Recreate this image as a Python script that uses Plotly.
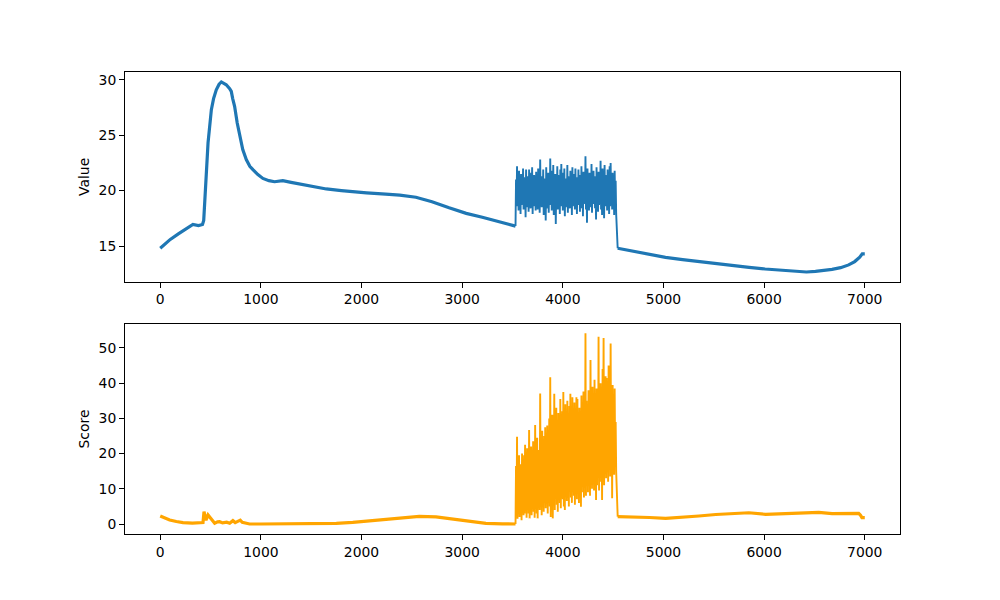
import plotly.graph_objects as go

# ---------------- Data ----------------
# Value series: smooth part before the noisy block
value_pre_x = [0, 50, 100, 180, 260, 325, 380, 420, 432, 450, 475, 508, 530, 557, 585, 607,
               630, 656, 690, 706, 720, 739, 765, 789, 820, 855, 890, 921, 970, 1020, 1080,
               1136, 1218, 1300, 1420, 1550, 1650, 1800, 1910, 2050, 2240, 2380, 2540, 2700,
               2870, 3040, 3200, 3370, 3530]
value_pre_y = [14.8, 15.2, 15.6, 16.1, 16.6, 16.95, 16.85, 16.95, 17.3, 19.8, 24.3, 27.3, 28.3,
               29.1, 29.6, 29.8, 29.7, 29.55, 29.2, 28.95, 28.3, 27.6, 26.1, 24.9, 23.7, 22.8,
               22.2, 21.9, 21.45, 21.1, 20.9, 20.8, 20.9, 20.75, 20.55, 20.3, 20.15, 20.0, 19.9,
               19.8, 19.68, 19.6, 19.4, 19.0, 18.45, 17.95, 17.6, 17.2, 16.8]

# noisy block: alternating high / low readings, one pair every 10 samples from index 3535
noise_start = 3535
noise_step = 5
value_noise_high = [21.0, 22.2, 20.7, 21.8, 20.9, 21.5, 20.6, 22.0, 21.2, 20.8,
                    21.9, 20.7, 21.3, 21.9, 20.8, 21.6, 22.1, 20.9, 21.4, 20.6,
                    21.7, 21.0, 22.0, 20.8, 22.8, 21.3, 20.7, 21.9, 21.1, 20.9,
                    22.1, 20.8, 21.6, 21.0, 22.9, 21.8, 20.7, 22.3, 21.2, 21.5,
                    20.8, 22.2, 21.4, 20.9, 21.9, 22.4, 20.7, 21.6, 22.0, 21.1,
                    20.9, 22.3, 21.3, 20.8, 21.8, 21.0, 22.1, 20.7, 21.5, 22.0,
                    21.2, 20.8, 21.9, 21.4, 20.7, 22.2, 21.0, 21.7, 20.9, 23.1,
                    21.4, 22.0, 20.8, 21.6, 21.1, 22.4, 20.7, 21.8, 21.3, 20.9,
                    22.1, 21.0, 21.7, 20.8, 22.7, 21.2, 22.0, 20.9, 22.3, 21.4,
                    20.8, 21.9, 21.2, 22.2, 22.5, 20.9, 21.6, 21.0, 21.8, 20.9]
value_noise_low = [18.6, 19.1, 18.2, 18.9, 17.9, 18.7, 19.2, 18.3, 18.8, 17.6,
                   18.5, 19.0, 18.1, 18.8, 18.4, 19.1, 17.9, 18.6, 19.0, 18.2,
                   18.9, 18.3, 19.2, 18.0, 18.7, 18.5, 19.0, 17.8, 18.8, 17.3,
                   18.4, 19.1, 18.0, 18.7, 19.2, 18.2, 18.9, 17.8, 18.5, 17.0,
                   19.0, 18.3, 18.8, 17.9, 18.6, 19.1, 18.2, 18.9, 17.7, 18.5,
                   19.2, 18.0, 18.7, 18.4, 19.0, 17.8, 18.6, 19.1, 18.3, 18.8,
                   17.9, 18.7, 19.2, 18.1, 18.9, 18.4, 17.7, 18.8, 19.0, 18.3,
                   17.1, 18.9, 18.2, 19.1, 18.5, 18.0, 18.8, 19.2, 18.4, 17.4,
                   18.9, 18.1, 18.7, 19.0, 18.3, 17.8, 18.9, 17.5, 18.6, 19.1,
                   18.2, 18.8, 17.9, 18.6, 19.0, 18.3, 18.7, 17.8, 18.9, 17.9]

value_post_x = [4545, 4690, 4860, 5020, 5190, 5350, 5520, 5680, 5850, 6010, 6180, 6340, 6420,
                6510, 6600, 6675, 6760, 6840, 6900, 6950, 6975, 7000]
value_post_y = [14.8, 14.55, 14.2, 13.98, 13.78, 13.59, 13.4, 13.23, 13.07, 12.93, 12.8, 12.68,
                12.66, 12.72, 12.8, 12.9, 13.05, 13.3, 13.6, 14.0, 14.3, 14.3]

# Score series
score_pre_x = [0, 40, 94, 160, 226, 320, 408, 425, 435, 445, 455, 475, 490, 508, 525, 541, 570,
               590, 620, 660, 690, 710, 722, 745, 772, 785, 795, 815, 838, 888, 1000, 1300, 1580,
               1750, 1913, 2080, 2244, 2410, 2574, 2740, 2905, 3070, 3236, 3400, 3530]
score_pre_y = [2.27, 1.8, 1.14, 0.7, 0.37, 0.25, 0.2, 0.4, 3.5, 2.0, 1.1, 2.55, 2.0, 1.6, 1.0,
               0.2, 0.6, 0.66, 0.3, 0.5, 0.2, 0.8, 0.95, 0.4, 0.66, 0.9, 1.1, 0.5, 0.37, 0.0,
               0.0, 0.0, 0.05, 0.2, 0.48, 0.9, 1.42, 1.85, 2.18, 2.0, 1.42, 0.8, 0.2, 0.05, 0.0]

score_noise_high = [16.5, 24.8, 14.0, 19.5, 17.0, 12.5, 20.0, 16.0, 19.5, 22.5,
                    15.0, 21.5, 18.0, 26.7, 17.5, 22.0, 14.5, 23.5, 19.0, 28.1,
                    18.0, 24.5, 21.0, 16.5, 37.1, 22.0, 26.5, 19.5, 25.0, 27.5,
                    20.5, 28.0, 23.0, 30.0, 41.7, 21.5, 31.0, 24.0, 37.0, 27.0,
                    33.0, 23.5, 31.5, 26.0, 35.5, 22.5, 32.0, 37.5, 25.0, 34.0,
                    28.0, 35.0, 24.5, 33.5, 37.0, 27.0, 36.0, 25.5, 34.5, 29.0,
                    36.0, 35.5, 26.5, 33.0, 28.0, 36.5, 30.0, 37.6, 27.5, 54.2,
                    35.0, 29.0, 38.0, 31.5, 46.6, 28.5, 39.0, 33.0, 41.0, 30.5,
                    38.5, 32.0, 53.2, 35.0, 40.0, 31.0, 44.0, 52.8, 36.0, 42.0,
                    41.5, 34.5, 45.0, 37.0, 51.3, 33.0, 39.5, 36.0, 38.5, 29.0]
score_noise_low = [3.0, 1.5, 4.5, 2.0, 3.5, 1.1, 5.0, 2.5, 3.0, 4.0,
                   1.8, 5.5, 3.0, 1.6, 6.0, 2.5, 5.0, 3.5, 1.8, 6.5,
                   3.0, 1.6, 7.0, 4.0, 5.5, 2.5, 7.5, 3.5, 6.0, 4.5,
                   8.0, 3.0, 6.5, 5.0, 2.0, 8.5, 1.6, 6.0, 4.0, 9.0,
                   5.5, 3.5, 9.5, 6.0, 4.5, 10.0, 7.0, 5.0, 4.0, 11.0,
                   6.5, 9.0, 5.0, 12.0, 7.5, 6.0, 11.5, 8.0, 5.5, 12.5,
                   7.0, 10.0, 6.0, 13.0, 4.9, 9.0, 12.0, 7.5, 10.5, 8.0,
                   13.5, 9.0, 11.5, 8.0, 14.0, 10.0, 12.5, 9.5, 15.0, 6.8,
                   11.0, 14.0, 9.5, 16.0, 12.0, 6.8, 15.5, 11.0, 17.0, 13.0,
                   16.5, 12.0, 18.0, 13.5, 15.0, 7.3, 17.5, 14.0, 19.0, 15.0]

score_post_x = [4545, 4690, 4860, 5022, 5190, 5352, 5520, 5683, 5848, 6014, 6180, 6344, 6543,
                6675, 6800, 6907, 6940, 6956, 6972, 7000]
score_post_y = [2.1, 2.08, 1.85, 1.6, 1.85, 2.27, 2.7, 3.03, 3.2, 2.74, 2.85, 3.03, 3.31, 2.93,
                3.0, 3.12, 3.0, 2.56, 1.8, 1.8]

x_ticks = [0, 1000, 2000, 3000, 4000, 5000, 6000, 7000]
value_ticks = [15, 20, 25, 30]
score_ticks = [0, 10, 20, 30, 40, 50]

# ---------------- Assemble ----------------
def interleave(highs, lows):
    out = []
    for h, l in zip(highs, lows):
        out.extend([h, l])
    return out

value_noise = interleave(value_noise_high, value_noise_low)
score_noise = interleave(score_noise_high, score_noise_low)
noise_x = [noise_start + noise_step * i for i in range(len(value_noise))]

BLUE = "#1f77b4"
ORANGE = "#FFA500"

fig = go.Figure()


def add_series(pre_x, pre_y, noise, post_x, post_y, color, xa, ya):
    fig.add_trace(go.Scatter(x=pre_x, y=pre_y, mode="lines",
                             line=dict(color=color, width=3.2),
                             xaxis=xa, yaxis=ya, showlegend=False, hoverinfo="skip"))
    fig.add_trace(go.Scatter(x=[pre_x[-1]] + noise_x + [post_x[0]],
                             y=[pre_y[-1]] + noise + [post_y[0]], mode="lines",
                             line=dict(color=color, width=1.9),
                             xaxis=xa, yaxis=ya, showlegend=False, hoverinfo="skip"))
    fig.add_trace(go.Scatter(x=post_x, y=post_y, mode="lines",
                             line=dict(color=color, width=3.2),
                             xaxis=xa, yaxis=ya, showlegend=False, hoverinfo="skip"))


add_series(value_pre_x, value_pre_y, value_noise, value_post_x, value_post_y, BLUE, "x", "y")
add_series(score_pre_x, score_pre_y, score_noise, score_post_x, score_post_y, ORANGE, "x2", "y2")

font = dict(family="DejaVu Sans", size=13.9, color="black")
axis_common = dict(showline=True, mirror=True, linecolor="black", linewidth=1.1,
                   ticks="outside", ticklen=4.9, tickwidth=1.1, tickcolor="black",
                   showgrid=False, zeroline=False, tickfont=font)

fig.update_layout(
    width=1000, height=600,
    margin=dict(l=117, r=108, t=64, b=74),
    paper_bgcolor="white", plot_bgcolor="white",
    font=font,
    xaxis=dict(domain=[0, 1], anchor="y", range=[-350, 7350], tickvals=x_ticks, **axis_common),
    yaxis=dict(domain=[0.546, 1], anchor="x", range=[11.78, 30.70], tickvals=value_ticks,
               title=dict(text="Value", font=font, standoff=5), **axis_common),
    xaxis2=dict(domain=[0, 1], anchor="y2", range=[-350, 7350], tickvals=x_ticks, **axis_common),
    yaxis2=dict(domain=[0, 0.4545], anchor="x2", range=[-2.84, 56.8], tickvals=score_ticks,
                title=dict(text="Score", font=font, standoff=5), **axis_common),
)

fig.write_html("out.html")
